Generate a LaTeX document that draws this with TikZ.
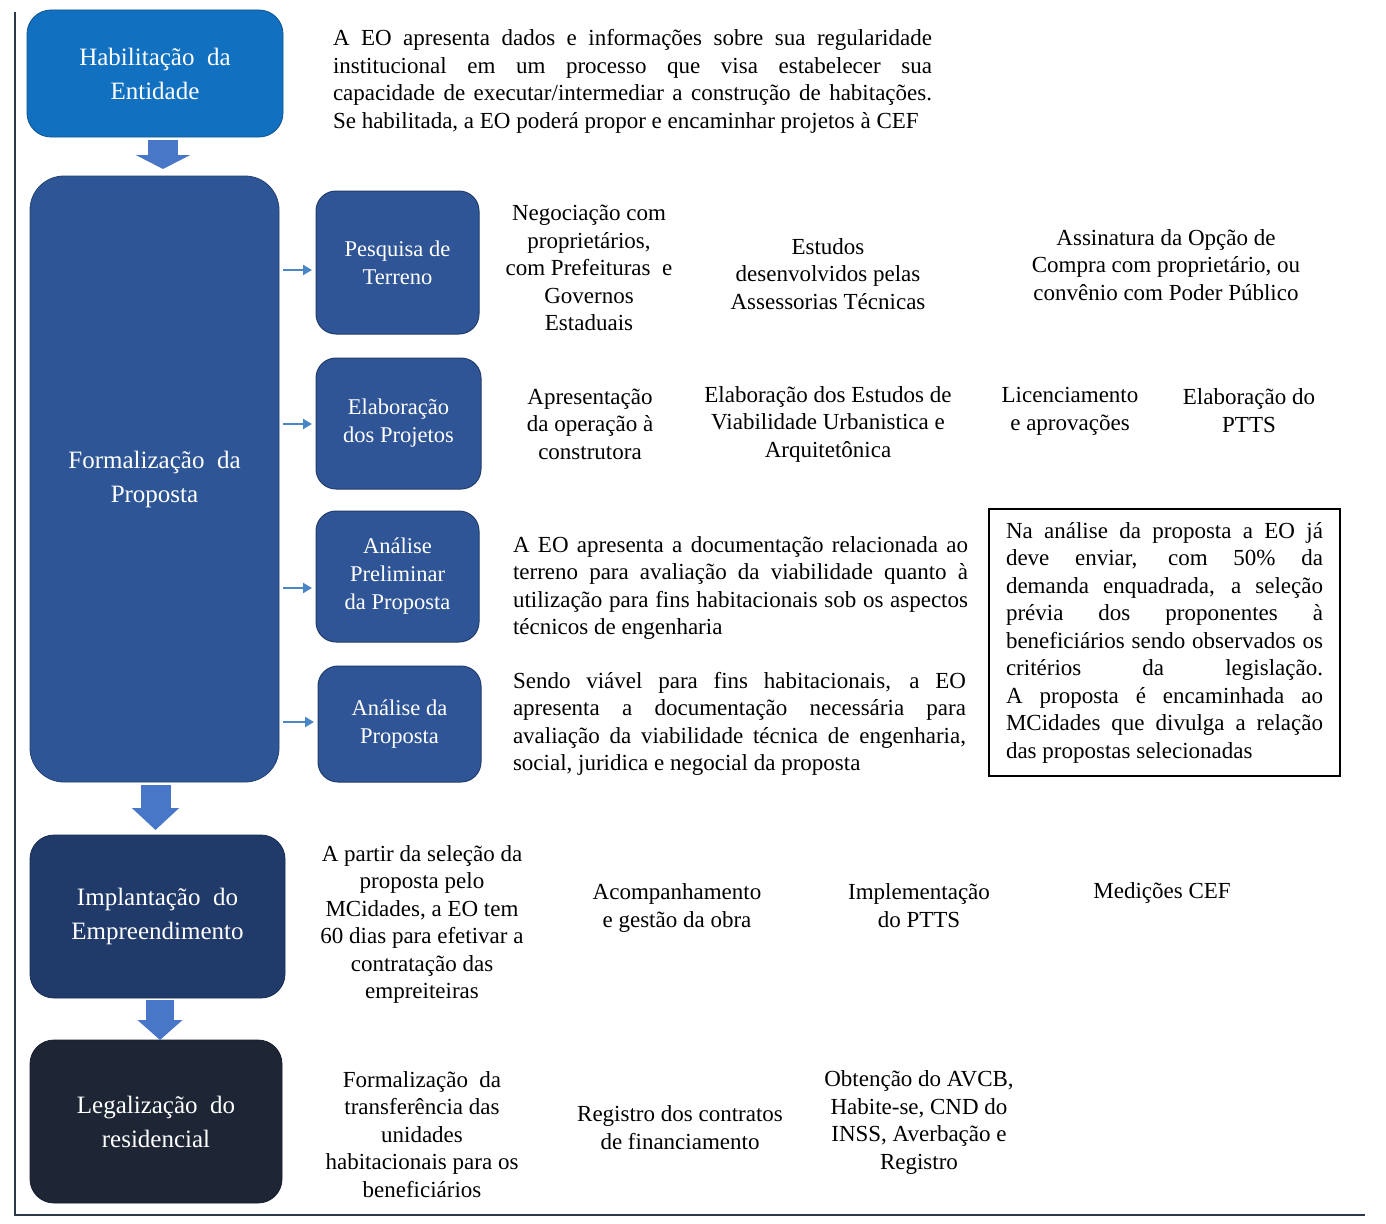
\documentclass[tikz,border=0pt]{standalone}
\usepackage{fontspec}
\setmainfont{Liberation Serif}
\usetikzlibrary{arrows.meta,calc}
\definecolor{cHab}{HTML}{1270C0}
\definecolor{cForm}{HTML}{2E5696}
\definecolor{cSmall}{HTML}{2F5597}
\definecolor{cImpl}{HTML}{203A6A}
\definecolor{cLeg}{HTML}{1E2636}
\definecolor{cBlock}{HTML}{4877C8}
\definecolor{cThin}{HTML}{4A86C5}
\definecolor{cFrame}{HTML}{2B3A4A}
\newcommand\myBody{\fontsize{23}{27.5}\selectfont}
\newcommand\myJust{\fontsize{23}{27.5}\selectfont\tolerance=10000\hyphenpenalty=10000\emergencystretch=0pt}
\newcommand\myBig{\fontsize{25}{34}\selectfont}
\newcommand\mySmall{\fontsize{22.5}{28}\selectfont}
\begin{document}
\begin{tikzpicture}[x=1pt,y=-1pt,
  every node/.style={inner sep=0pt, outer sep=0pt},
  bigbox/.style={rounded corners=24pt, fill=#1, draw=#1!75!black, line width=0.8pt,
    text=white, font=\myBig, align=center},
  sbox/.style={rounded corners=20pt, fill=cSmall, draw=cSmall!70!black, line width=1pt,
    text=white, font=\mySmall, align=center, minimum width=163pt},
  txt/.style={font=\myBody, align=center},
  jtxt/.style={font=\myJust, align=justify},
  notebox/.style={draw=black, line width=1.2pt, font=\myJust, align=justify,
    text width=317pt, inner xsep=17pt, minimum height=267pt},
  blockarrow/.style={draw=cBlock, line width=30pt},
  thinarrow/.style={draw=cThin, line width=2.5pt, -{Triangle[length=9pt,width=10pt]},
    shorten <=4pt, shorten >=4pt},
  framelines/.style={draw=cFrame, line width=1.5pt}
]
\fill[white] (0,0) rectangle (1386,1223);
\useasboundingbox (0,0) rectangle (1386,1223);

% frame
\coordinate (fTop) at (15,12);
\coordinate (fCorner) at (15,1215);
\coordinate (fRight) at (1365,1215);
\draw[framelines] (fTop) -- (fCorner) -- (fRight);

% left column boxes
\node[bigbox=cHab, minimum width=256pt, minimum height=127pt] (hab) at (155,73.5) {Habilitação\ \ da\\Entidade};
\node[bigbox=cForm, rounded corners=34pt, minimum width=249pt, minimum height=606pt] (form) at (154.5,479) {Formalização\ \ da\\Proposta};
\node[bigbox=cImpl, minimum width=255pt, minimum height=163pt] (impl) at (157.5,916.5) {Implantação\ \ do\\Empreendimento};
\node[bigbox=cLeg, minimum width=252pt, minimum height=163pt] (leg) at (156,1121.5) {Legalização\ \ do\\residencial};

% sub boxes
\node[sbox, minimum height=143pt] (pesq) at (397.5,262.5) {Pesquisa de\\Terreno};
\node[sbox, minimum width=165pt, minimum height=131pt] (elab) at (398.5,423.5) {Elaboração\\dos Projetos};
\node[sbox, minimum height=131pt] (prel) at (397.5,576.5) {Análise\\Preliminar\\da Proposta};
\node[sbox, minimum height=116pt] (anal) at (399.5,724) {Análise da\\Proposta};

% block arrows
\draw[blockarrow, -{Triangle[length=14pt,width=54pt]}, shorten <=3pt, shorten >=7pt]
  ([xshift=8pt]hab.south) -- ([xshift=8pt]hab.south |- form.north);
\draw[blockarrow, -{Triangle[length=22pt,width=46pt]}, shorten <=3pt, shorten >=5pt]
  ([xshift=1pt]form.south) -- ([xshift=1pt]form.south |- impl.north);
\draw[blockarrow, line width=28pt, -{Triangle[length=20pt,width=44pt]}, shorten <=2pt, shorten >=0pt]
  ([xshift=2.5pt]impl.south) -- ([xshift=2.5pt]impl.south |- leg.north);

% thin arrows
\draw[thinarrow] ($(form.east |- pesq.west)+(0,7.5)$) -- ($(pesq.west)+(0,7.5)$);
\draw[thinarrow] ($(form.east |- elab.west)+(0,0.5)$) -- ($(elab.west)+(0,0.5)$);
\draw[thinarrow] ($(form.east |- prel.west)+(0,11.5)$) -- ($(prel.west)+(0,11.5)$);
\draw[thinarrow] ($(form.east |- anal.west)+(0,-2)$) -- ($(anal.west)+(0,-2)$);

% texts
\node[jtxt, text width=599pt] (tHab) at (632.5,81.5) {A EO apresenta dados e informações sobre sua regularidade\linebreak institucional em um processo que visa estabelecer sua\linebreak capacidade de executar/intermediar a construção de habitações.\linebreak Se habilitada, a EO poderá propor e encaminhar projetos à CEF};

\node[txt] (tNeg) at (589,268) {Negociação com\\proprietários,\\com Prefeituras\ \ e\\Governos\\Estaduais};
\node[txt] (tEst) at (828,274) {Estudos\\desenvolvidos pelas\\Assessorias Técnicas};
\node[txt] (tAss) at (1166,265) {Assinatura da Opção de\\Compra com proprietário, ou\\convênio com Poder Público};

\node[txt] (tApr) at (590,424) {Apresentação\\da operação à\\construtora};
\node[txt] (tEla) at (828,424) {Elaboração dos Estudos de\\Viabilidade Urbanistica e\\Arquitetônica};
\node[txt] (tLic) at (1070,411.5) {Licenciamento\\e aprovações};
\node[txt] (tPtts) at (1249,410.5) {Elaboração do\\PTTS};

\node[jtxt, text width=455pt] (tPre) at (740.5,588) {A EO apresenta a documentação relacionada ao\linebreak terreno para avaliação da viabilidade quanto à\linebreak utilização para fins habitacionais sob os aspectos\linebreak técnicos de engenharia};
\node[jtxt, text width=453pt] (tAna) at (739.5,724) {Sendo viável para fins habitacionais, a EO\linebreak apresenta a documentação necessária para\linebreak avaliação da viabilidade técnica de engenharia,\linebreak social, juridica e negocial da proposta};

\node[notebox] (nota) at (1164.5,642.5) {Na análise da proposta a EO já\linebreak deve enviar, com 50\% da\linebreak demanda enquadrada, a seleção\linebreak prévia dos proponentes à\linebreak beneficiários sendo observados os\linebreak critérios da legislação.\linebreak A proposta é encaminhada ao\linebreak MCidades que divulga a relação\linebreak das propostas selecionadas};

\node[txt] (tApar) at (422,924.5) {A partir da seleção da\\proposta pelo\\MCidades, a EO tem\\60 dias para efetivar a\\contratação das\\empreiteiras};
\node[txt] (tAcomp) at (677,908) {Acompanhamento\\e gestão da obra};
\node[txt] (tImpl) at (919,905.5) {Implementação\\do PTTS};
\node[txt] (tMed) at (1162,893) {Medições CEF};

\node[txt] (tForm) at (422,1134.5) {Formalização\ \ da\\transferência das\\unidades\\habitacionais para os\\beneficiários};
\node[txt] (tReg) at (680,1127.5) {Registro dos contratos\\de financiamento};
\node[txt] (tObt) at (919,1122.5) {Obtenção do AVCB,\\Habite-se, CND do\\INSS, Averbação e\\Registro};
\end{tikzpicture}
\end{document}
